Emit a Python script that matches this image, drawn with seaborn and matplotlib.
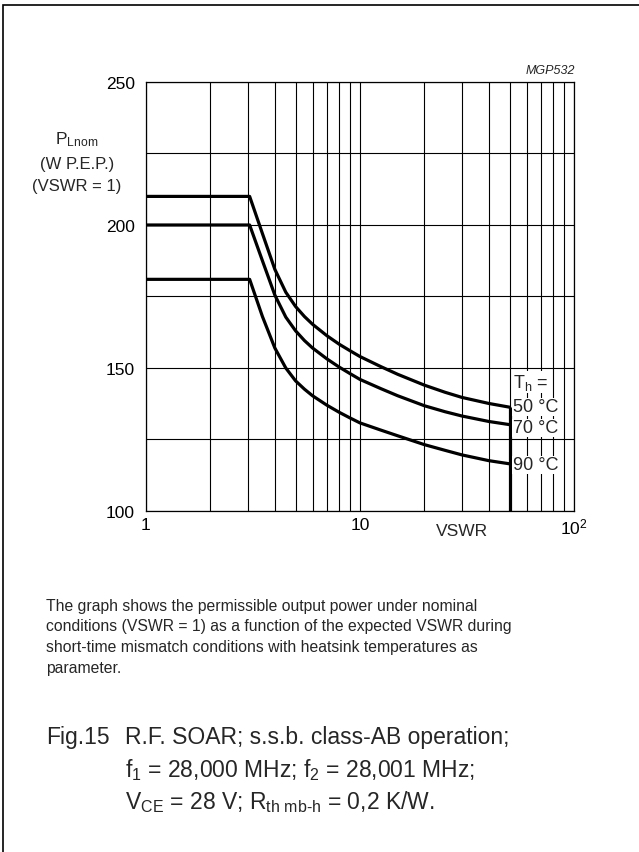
import numpy as np
import pandas as pd
import matplotlib
matplotlib.use("Agg")
import matplotlib.pyplot as plt
from matplotlib.ticker import FixedLocator, NullFormatter
import seaborn as sns

# values
vswr = [1, 3.05, 3.5, 4, 4.5, 5, 5.5, 6, 7, 8, 9, 10, 12.5, 15, 20, 25, 30, 40, 50]
p_50 = [210, 210, 197, 184.5, 176.5, 171.5, 168, 165.3, 161.3, 158.3, 156, 154,
        150.5, 147.8, 144, 141.5, 139.7, 137.6, 136.3]
p_70 = [200, 200, 187.5, 175.5, 167.8, 163, 159.6, 157, 153.2, 150.3, 148, 146,
        142.8, 140.3, 136.8, 134.7, 133.2, 131.3, 130.2]
p_90 = [181, 181, 168, 157, 150, 145.5, 142.6, 140.3, 137, 134.5, 132.5, 130.8,
        128.3, 126.3, 123.2, 121.2, 119.6, 117.6, 116.5]
temps = ["50 °C", "70 °C", "90 °C"]

x_ticks = [1, 10, 100]
x_labels = ["1", "10", r"$\mathrm{10^{2}}$"]
y_ticks = [100, 150, 200, 250]

df = pd.DataFrame({
    "vswr": vswr * 3,
    "power": p_50 + p_70 + p_90,
    "temp": [t for t in temps for _ in vswr],
})

sns.set_style("white")
plt.rcParams["font.family"] = ["Liberation Sans", "DejaVu Sans"]
plt.rcParams["mathtext.fontset"] = "custom"
plt.rcParams["mathtext.rm"] = "Liberation Sans"
plt.rcParams["mathtext.it"] = "Liberation Sans:italic"

W, H = 639, 853
fig = plt.figure(figsize=(W / 100, H / 100), dpi=100)


def fx(px):
    return px / W


def fy(py):
    return 1 - py / H


ax = fig.add_axes([fx(146), fy(512), fx(574) - fx(146), (512 - 83) / H])

sns.lineplot(data=df, x="vswr", y="power", hue="temp", units="temp", estimator=None,
             palette=["black"] * 3, linewidth=2.3, legend=False, ax=ax,
             solid_joinstyle="round")
ax.vlines(vswr[-1], 100, p_50[-1], color="black", linewidth=2.3)

ax.set_xscale("log")
ax.set_xlim(1, 100)
ax.set_ylim(100, 250)
ax.set_xticks(x_ticks)
ax.set_xticklabels(x_labels)
ax.xaxis.set_minor_formatter(NullFormatter())
ax.set_yticks(y_ticks)
ax.yaxis.set_minor_locator(FixedLocator([125, 175, 225]))
ax.grid(which="both", color="black", linewidth=0.8)
ax.tick_params(which="both", length=0, labelsize=12.5, colors="black")
ax.tick_params(axis="y", pad=8)
ax.tick_params(axis="x", pad=4)
ax.set_xlabel("")
ax.set_ylabel("")
for s in ax.spines.values():
    s.set_color("black")
    s.set_linewidth(0.9)

# curve labels
lab_y = [408, 429, 466]
fig.text(fx(513), fy(383), r"T$_\mathrm{h}$ =", fontsize=13, va="center",
         bbox=dict(facecolor="white", edgecolor="none", pad=1))
for t, yy in zip(temps, lab_y):
    fig.text(fx(513), fy(yy), t, fontsize=13, va="center",
             bbox=dict(facecolor="white", edgecolor="none", pad=0.5))

fig.text(fx(462), fy(532), "VSWR", fontsize=12.5, ha="center", va="center")
fig.text(fx(575), fy(71), "MGP532", fontsize=9, style="italic", ha="right", va="center")

fig.text(fx(77), fy(140), r"P$_\mathrm{Lnom}$", fontsize=12.5, ha="center", va="center")
fig.text(fx(77), fy(164), "(W P.E.P.)", fontsize=12, ha="center", va="center")
fig.text(fx(77), fy(187), "(VSWR = 1)", fontsize=12, ha="center", va="center")

para = ["The graph shows the permissible output power under nominal",
        "conditions (VSWR = 1) as a function of the expected VSWR during",
        "short-time mismatch conditions with heatsink temperatures as",
        "parameter."]
for i, line in enumerate(para):
    fig.text(fx(46), fy(606 + i * 21), line, fontsize=11.3, va="center")

fig.text(fx(46), fy(738), "Fig.15", fontsize=16.5, va="center")
fig.text(fx(125), fy(738), "R.F. SOAR; s.s.b. class-AB operation;", fontsize=16.5, va="center")
fig.text(fx(125), fy(770), r"f$_1$ = 28,000 MHz; f$_2$ = 28,001 MHz;", fontsize=16.5, va="center")
fig.text(fx(125), fy(802), r"V$_\mathrm{CE}$ = 28 V; R$_\mathrm{th\ mb\text{-}h}$ = 0,2 K/W.",
         fontsize=16.5, va="center")

# page frame (left and top edges)
fig.add_artist(plt.Rectangle((fx(3), -0.1), 1.2, fy(6) + 0.1, transform=fig.transFigure,
                             fill=False, edgecolor="black", linewidth=1.2))

fig.savefig("out.png", dpi=100)
